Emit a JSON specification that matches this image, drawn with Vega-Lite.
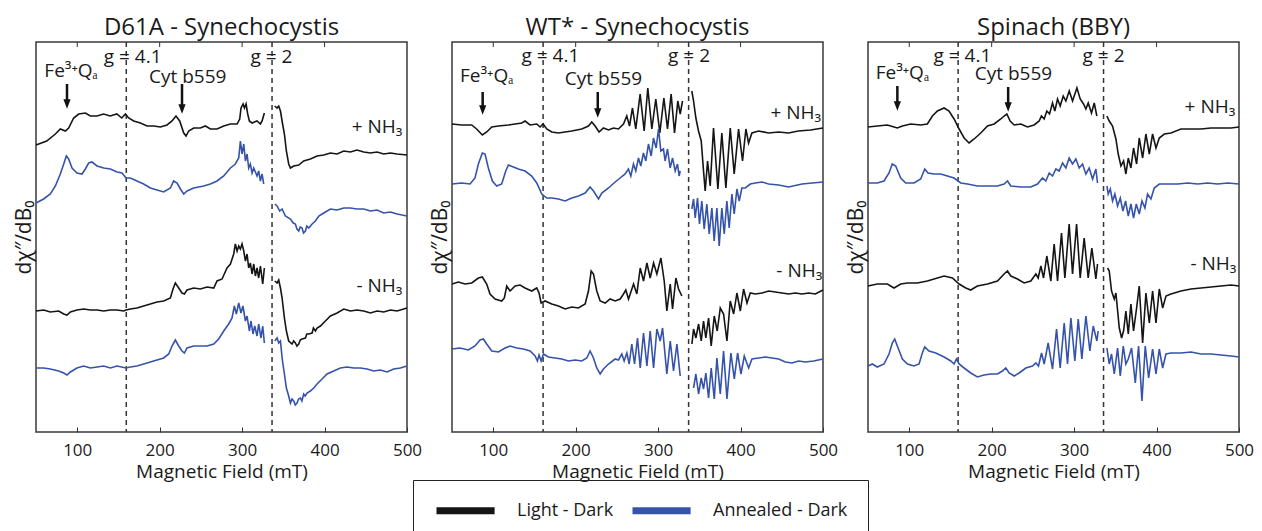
{
"$schema": "https://vega.github.io/schema/vega-lite/v6.json",
"padding": {"left": 12, "top": 16, "right": 0, "bottom": 0},
"background": "white",
"data": {"values": [
{"p":"A","k":"d","x":159.5},{"p":"A","k":"d","x":336.3},
{"p":"B","k":"d","x":160.5},{"p":"B","k":"d","x":337},
{"p":"C","k":"d","x":159.3},{"p":"C","k":"d","x":335.7},
{"p":"A","k":"tk","x":100},{"p":"A","k":"tk","x":200},{"p":"A","k":"tk","x":300},{"p":"A","k":"tk","x":400},
{"p":"B","k":"tk","x":100},{"p":"B","k":"tk","x":200},{"p":"B","k":"tk","x":300},{"p":"B","k":"tk","x":400},
{"p":"C","k":"tk","x":100},{"p":"C","k":"tk","x":200},{"p":"C","k":"tk","x":300},{"p":"C","k":"tk","x":400},
{"p":"A","k":"txt","x":167.3,"y":375,"label":"g = 4.1"},{"p":"A","k":"txt","x":335.5,"y":375,"label":"g = 2"},{"p":"A","k":"txt","x":92.5,"y":361,"label":"Fe³⁺Qₐ"},{"p":"A","k":"txt","x":234,"y":355,"label":"Cyt b559"},{"p":"A","k":"txt","x":463.7,"y":305,"label":"+ NH₃"},{"p":"A","k":"txt","x":466.5,"y":146,"label":"- NH₃"},
{"p":"B","k":"txt","x":169.4,"y":376,"label":"g = 4.1"},{"p":"B","k":"txt","x":337.5,"y":376,"label":"g = 2"},{"p":"B","k":"txt","x":92.1,"y":356,"label":"Fe³⁺Qₐ"},{"p":"B","k":"txt","x":233.7,"y":353,"label":"Cyt b559"},{"p":"B","k":"txt","x":467,"y":319,"label":"+ NH₃"},{"p":"B","k":"txt","x":471.3,"y":161,"label":"- NH₃"},
{"p":"C","k":"txt","x":164.5,"y":376,"label":"g = 4.1"},{"p":"C","k":"txt","x":335.7,"y":376,"label":"g = 2"},{"p":"C","k":"txt","x":91.7,"y":359,"label":"Fe³⁺Qₐ"},{"p":"C","k":"txt","x":226.4,"y":358,"label":"Cyt b559"},{"p":"C","k":"txt","x":464.8,"y":325,"label":"+ NH₃"},{"p":"C","k":"txt","x":468.9,"y":168,"label":"- NH₃"},
{"p":"A","k":"arr","x":87.6,"y":348,"yh":328},{"p":"A","k":"arr","x":227.1,"y":348,"yh":323},
{"p":"B","k":"arr","x":87.2,"y":340,"yh":322},{"p":"B","k":"arr","x":226.8,"y":340,"yh":319},
{"p":"C","k":"arr","x":85.6,"y":346,"yh":326},{"p":"C","k":"arr","x":220,"y":345,"yh":325},
{"p":"A","id":"A1","t":"L","x":50,"y":287},{"p":"A","id":"A1","t":"L","x":63,"y":291},{"p":"A","id":"A1","t":"L","x":73.5,"y":298},{"p":"A","id":"A1","t":"L","x":79.5,"y":303},{"p":"A","id":"A1","t":"L","x":85.6,"y":301},{"p":"A","id":"A1","t":"L","x":89.6,"y":304},{"p":"A","id":"A1","t":"L","x":95.7,"y":314},{"p":"A","id":"A1","t":"L","x":101.8,"y":318},{"p":"A","id":"A1","t":"L","x":109.9,"y":319},{"p":"A","id":"A1","t":"L","x":115.9,"y":316},{"p":"A","id":"A1","t":"L","x":124,"y":316},{"p":"A","id":"A1","t":"L","x":132,"y":318},{"p":"A","id":"A1","t":"L","x":140,"y":316},{"p":"A","id":"A1","t":"L","x":148,"y":318},{"p":"A","id":"A1","t":"L","x":154,"y":314},{"p":"A","id":"A1","t":"L","x":158.4,"y":318},{"p":"A","id":"A1","t":"L","x":162.4,"y":314},{"p":"A","id":"A1","t":"L","x":168.5,"y":311},{"p":"A","id":"A1","t":"L","x":176.6,"y":309},{"p":"A","id":"A1","t":"L","x":184.7,"y":306},{"p":"A","id":"A1","t":"L","x":192.8,"y":306},{"p":"A","id":"A1","t":"L","x":200.8,"y":305},{"p":"A","id":"A1","t":"L","x":208.9,"y":307},{"p":"A","id":"A1","t":"L","x":215,"y":311},{"p":"A","id":"A1","t":"L","x":219.8,"y":316},{"p":"A","id":"A1","t":"L","x":224.3,"y":311},{"p":"A","id":"A1","t":"L","x":229.2,"y":299},{"p":"A","id":"A1","t":"L","x":232,"y":296},{"p":"A","id":"A1","t":"L","x":235.2,"y":301},{"p":"A","id":"A1","t":"L","x":241.3,"y":304},{"p":"A","id":"A1","t":"L","x":249.4,"y":304},{"p":"A","id":"A1","t":"L","x":255.4,"y":306},{"p":"A","id":"A1","t":"L","x":261.5,"y":303},{"p":"A","id":"A1","t":"L","x":269.6,"y":303},{"p":"A","id":"A1","t":"L","x":277.7,"y":306},{"p":"A","id":"A1","t":"L","x":285.8,"y":308},{"p":"A","id":"A1","t":"L","x":293.9,"y":308},{"p":"A","id":"A1","t":"L","x":297.1,"y":313},{"p":"A","id":"A1","t":"L","x":298.7,"y":324},{"p":"A","id":"A1","t":"L","x":301.2,"y":328},{"p":"A","id":"A1","t":"L","x":302.8,"y":324},{"p":"A","id":"A1","t":"L","x":304.8,"y":328},{"p":"A","id":"A1","t":"L","x":306.8,"y":318},{"p":"A","id":"A1","t":"L","x":308.8,"y":311},{"p":"A","id":"A1","t":"L","x":312.1,"y":309},{"p":"A","id":"A1","t":"L","x":318.1,"y":311},{"p":"A","id":"A1","t":"L","x":322.2,"y":308},{"p":"A","id":"A1","t":"L","x":324.2,"y":311},{"p":"A","id":"A1","t":"L","x":327,"y":319},
{"p":"A","id":"A2","t":"L","x":339.6,"y":326},{"p":"A","id":"A2","t":"L","x":342.4,"y":324},{"p":"A","id":"A2","t":"L","x":344.4,"y":326},{"p":"A","id":"A2","t":"L","x":346.5,"y":321},{"p":"A","id":"A2","t":"L","x":348.9,"y":309},{"p":"A","id":"A2","t":"L","x":351.3,"y":298},{"p":"A","id":"A2","t":"L","x":353.7,"y":281},{"p":"A","id":"A2","t":"L","x":356.5,"y":268},{"p":"A","id":"A2","t":"L","x":358.6,"y":264},{"p":"A","id":"A2","t":"L","x":362.6,"y":266},{"p":"A","id":"A2","t":"L","x":368.7,"y":267},{"p":"A","id":"A2","t":"L","x":374.7,"y":271},{"p":"A","id":"A2","t":"L","x":382.8,"y":273},{"p":"A","id":"A2","t":"L","x":390.9,"y":276},{"p":"A","id":"A2","t":"L","x":399,"y":277},{"p":"A","id":"A2","t":"L","x":407.1,"y":279},{"p":"A","id":"A2","t":"L","x":415.2,"y":278},{"p":"A","id":"A2","t":"L","x":423.3,"y":281},{"p":"A","id":"A2","t":"L","x":431.3,"y":280},{"p":"A","id":"A2","t":"L","x":439.4,"y":282},{"p":"A","id":"A2","t":"L","x":447.5,"y":280},{"p":"A","id":"A2","t":"L","x":455.6,"y":279},{"p":"A","id":"A2","t":"L","x":463.7,"y":280},{"p":"A","id":"A2","t":"L","x":471.8,"y":278},{"p":"A","id":"A2","t":"L","x":479.9,"y":279},{"p":"A","id":"A2","t":"L","x":488,"y":278},{"p":"A","id":"A2","t":"L","x":500,"y":277},
{"p":"A","id":"A3","t":"A","x":50,"y":229},{"p":"A","id":"A3","t":"A","x":59.3,"y":233},{"p":"A","id":"A3","t":"A","x":67.4,"y":238},{"p":"A","id":"A3","t":"A","x":73.5,"y":246},{"p":"A","id":"A3","t":"A","x":79.5,"y":258},{"p":"A","id":"A3","t":"A","x":83.6,"y":268},{"p":"A","id":"A3","t":"A","x":86.8,"y":276},{"p":"A","id":"A3","t":"A","x":89.6,"y":273},{"p":"A","id":"A3","t":"A","x":93.7,"y":264},{"p":"A","id":"A3","t":"A","x":99.7,"y":259},{"p":"A","id":"A3","t":"A","x":105.8,"y":258},{"p":"A","id":"A3","t":"A","x":109.9,"y":263},{"p":"A","id":"A3","t":"A","x":113.9,"y":269},{"p":"A","id":"A3","t":"A","x":117.9,"y":270},{"p":"A","id":"A3","t":"A","x":124,"y":266},{"p":"A","id":"A3","t":"A","x":132.1,"y":264},{"p":"A","id":"A3","t":"A","x":140.2,"y":263},{"p":"A","id":"A3","t":"A","x":148.3,"y":260},{"p":"A","id":"A3","t":"A","x":154.3,"y":259},{"p":"A","id":"A3","t":"A","x":159.2,"y":254},{"p":"A","id":"A3","t":"A","x":164.4,"y":254},{"p":"A","id":"A3","t":"A","x":172.5,"y":251},{"p":"A","id":"A3","t":"A","x":180.6,"y":248},{"p":"A","id":"A3","t":"A","x":188.7,"y":244},{"p":"A","id":"A3","t":"A","x":196.8,"y":242},{"p":"A","id":"A3","t":"A","x":204.9,"y":240},{"p":"A","id":"A3","t":"A","x":213,"y":244},{"p":"A","id":"A3","t":"A","x":217,"y":251},{"p":"A","id":"A3","t":"A","x":221.1,"y":249},{"p":"A","id":"A3","t":"A","x":225.1,"y":243},{"p":"A","id":"A3","t":"A","x":229.2,"y":238},{"p":"A","id":"A3","t":"A","x":233.2,"y":241},{"p":"A","id":"A3","t":"A","x":241.3,"y":244},{"p":"A","id":"A3","t":"A","x":253.4,"y":246},{"p":"A","id":"A3","t":"A","x":261.5,"y":248},{"p":"A","id":"A3","t":"A","x":269.6,"y":251},{"p":"A","id":"A3","t":"A","x":277.7,"y":256},{"p":"A","id":"A3","t":"A","x":285.8,"y":264},{"p":"A","id":"A3","t":"A","x":291.8,"y":268},{"p":"A","id":"A3","t":"A","x":295.9,"y":274},{"p":"A","id":"A3","t":"A","x":297.9,"y":291},{"p":"A","id":"A3","t":"A","x":299.9,"y":278},{"p":"A","id":"A3","t":"A","x":302,"y":288},{"p":"A","id":"A3","t":"A","x":304,"y":271},{"p":"A","id":"A3","t":"A","x":306,"y":278},{"p":"A","id":"A3","t":"A","x":308,"y":264},{"p":"A","id":"A3","t":"A","x":310,"y":268},{"p":"A","id":"A3","t":"A","x":312.1,"y":259},{"p":"A","id":"A3","t":"A","x":314.1,"y":264},{"p":"A","id":"A3","t":"A","x":318.1,"y":256},{"p":"A","id":"A3","t":"A","x":320.1,"y":261},{"p":"A","id":"A3","t":"A","x":322.2,"y":251},{"p":"A","id":"A3","t":"A","x":324.2,"y":258},{"p":"A","id":"A3","t":"A","x":326.2,"y":248},
{"p":"A","id":"A4","t":"A","x":339.6,"y":228},{"p":"A","id":"A4","t":"A","x":342.4,"y":226},{"p":"A","id":"A4","t":"A","x":345.6,"y":221},{"p":"A","id":"A4","t":"A","x":348.5,"y":223},{"p":"A","id":"A4","t":"A","x":352.5,"y":216},{"p":"A","id":"A4","t":"A","x":358.6,"y":213},{"p":"A","id":"A4","t":"A","x":362,"y":209},{"p":"A","id":"A4","t":"A","x":364.6,"y":208},{"p":"A","id":"A4","t":"A","x":366.5,"y":203},{"p":"A","id":"A4","t":"A","x":368.7,"y":201},{"p":"A","id":"A4","t":"A","x":370.5,"y":205},{"p":"A","id":"A4","t":"A","x":372.7,"y":204},{"p":"A","id":"A4","t":"A","x":374.5,"y":199},{"p":"A","id":"A4","t":"A","x":376.8,"y":201},{"p":"A","id":"A4","t":"A","x":378.5,"y":206},{"p":"A","id":"A4","t":"A","x":380.8,"y":204},{"p":"A","id":"A4","t":"A","x":384.9,"y":208},{"p":"A","id":"A4","t":"A","x":388.9,"y":211},{"p":"A","id":"A4","t":"A","x":393,"y":216},{"p":"A","id":"A4","t":"A","x":399,"y":219},{"p":"A","id":"A4","t":"A","x":407.1,"y":223},{"p":"A","id":"A4","t":"A","x":415.2,"y":222},{"p":"A","id":"A4","t":"A","x":423.3,"y":224},{"p":"A","id":"A4","t":"A","x":431.3,"y":224},{"p":"A","id":"A4","t":"A","x":439.4,"y":223},{"p":"A","id":"A4","t":"A","x":447.5,"y":223},{"p":"A","id":"A4","t":"A","x":455.6,"y":221},{"p":"A","id":"A4","t":"A","x":463.7,"y":222},{"p":"A","id":"A4","t":"A","x":471.8,"y":219},{"p":"A","id":"A4","t":"A","x":479.9,"y":220},{"p":"A","id":"A4","t":"A","x":488,"y":218},{"p":"A","id":"A4","t":"A","x":500,"y":216},
{"p":"A","id":"A5","t":"L","x":50,"y":121},{"p":"A","id":"A5","t":"L","x":59.3,"y":122},{"p":"A","id":"A5","t":"L","x":67.4,"y":120},{"p":"A","id":"A5","t":"L","x":77.5,"y":121},{"p":"A","id":"A5","t":"L","x":83.6,"y":118},{"p":"A","id":"A5","t":"L","x":87.6,"y":117},{"p":"A","id":"A5","t":"L","x":91.7,"y":120},{"p":"A","id":"A5","t":"L","x":99.7,"y":122},{"p":"A","id":"A5","t":"L","x":107.8,"y":123},{"p":"A","id":"A5","t":"L","x":115.9,"y":122},{"p":"A","id":"A5","t":"L","x":124,"y":122},{"p":"A","id":"A5","t":"L","x":132.1,"y":121},{"p":"A","id":"A5","t":"L","x":140.2,"y":122},{"p":"A","id":"A5","t":"L","x":148.3,"y":122},{"p":"A","id":"A5","t":"L","x":156.4,"y":121},{"p":"A","id":"A5","t":"L","x":159.2,"y":122},{"p":"A","id":"A5","t":"L","x":164.4,"y":123},{"p":"A","id":"A5","t":"L","x":172.5,"y":124},{"p":"A","id":"A5","t":"L","x":180.6,"y":126},{"p":"A","id":"A5","t":"L","x":188.7,"y":128},{"p":"A","id":"A5","t":"L","x":196.8,"y":130},{"p":"A","id":"A5","t":"L","x":204.9,"y":131},{"p":"A","id":"A5","t":"L","x":213,"y":134},{"p":"A","id":"A5","t":"L","x":216.2,"y":143},{"p":"A","id":"A5","t":"L","x":219,"y":149},{"p":"A","id":"A5","t":"L","x":223.1,"y":144},{"p":"A","id":"A5","t":"L","x":227.1,"y":139},{"p":"A","id":"A5","t":"L","x":230,"y":138},{"p":"A","id":"A5","t":"L","x":233.2,"y":142},{"p":"A","id":"A5","t":"L","x":241.3,"y":144},{"p":"A","id":"A5","t":"L","x":249.4,"y":143},{"p":"A","id":"A5","t":"L","x":257.5,"y":145},{"p":"A","id":"A5","t":"L","x":265.6,"y":144},{"p":"A","id":"A5","t":"L","x":269.6,"y":151},{"p":"A","id":"A5","t":"L","x":275.7,"y":153},{"p":"A","id":"A5","t":"L","x":281.7,"y":164},{"p":"A","id":"A5","t":"L","x":285.8,"y":168},{"p":"A","id":"A5","t":"L","x":289.8,"y":178},{"p":"A","id":"A5","t":"L","x":291.8,"y":188},{"p":"A","id":"A5","t":"L","x":293.9,"y":181},{"p":"A","id":"A5","t":"L","x":295.9,"y":186},{"p":"A","id":"A5","t":"L","x":297.9,"y":183},{"p":"A","id":"A5","t":"L","x":299.9,"y":188},{"p":"A","id":"A5","t":"L","x":302,"y":181},{"p":"A","id":"A5","t":"L","x":304,"y":171},{"p":"A","id":"A5","t":"L","x":306,"y":178},{"p":"A","id":"A5","t":"L","x":308,"y":164},{"p":"A","id":"A5","t":"L","x":310,"y":169},{"p":"A","id":"A5","t":"L","x":312.1,"y":158},{"p":"A","id":"A5","t":"L","x":314.1,"y":168},{"p":"A","id":"A5","t":"L","x":316.1,"y":156},{"p":"A","id":"A5","t":"L","x":318.1,"y":164},{"p":"A","id":"A5","t":"L","x":320.1,"y":154},{"p":"A","id":"A5","t":"L","x":322.2,"y":166},{"p":"A","id":"A5","t":"L","x":325,"y":148},{"p":"A","id":"A5","t":"L","x":327,"y":164},
{"p":"A","id":"A6","t":"L","x":339.6,"y":151},{"p":"A","id":"A6","t":"L","x":342.4,"y":149},{"p":"A","id":"A6","t":"L","x":344.4,"y":152},{"p":"A","id":"A6","t":"L","x":346.5,"y":144},{"p":"A","id":"A6","t":"L","x":348.5,"y":134},{"p":"A","id":"A6","t":"L","x":351.3,"y":114},{"p":"A","id":"A6","t":"L","x":353.7,"y":101},{"p":"A","id":"A6","t":"L","x":356.5,"y":91},{"p":"A","id":"A6","t":"L","x":360.6,"y":88},{"p":"A","id":"A6","t":"L","x":362.5,"y":91},{"p":"A","id":"A6","t":"L","x":364.6,"y":89},{"p":"A","id":"A6","t":"L","x":366.5,"y":86},{"p":"A","id":"A6","t":"L","x":368.7,"y":88},{"p":"A","id":"A6","t":"L","x":370.5,"y":92},{"p":"A","id":"A6","t":"L","x":372.7,"y":93},{"p":"A","id":"A6","t":"L","x":376.8,"y":94},{"p":"A","id":"A6","t":"L","x":378.5,"y":98},{"p":"A","id":"A6","t":"L","x":380.8,"y":98},{"p":"A","id":"A6","t":"L","x":384.9,"y":99},{"p":"A","id":"A6","t":"L","x":386.5,"y":104},{"p":"A","id":"A6","t":"L","x":388.9,"y":101},{"p":"A","id":"A6","t":"L","x":390.9,"y":104},{"p":"A","id":"A6","t":"L","x":395,"y":106},{"p":"A","id":"A6","t":"L","x":401,"y":111},{"p":"A","id":"A6","t":"L","x":407.1,"y":116},{"p":"A","id":"A6","t":"L","x":415.2,"y":119},{"p":"A","id":"A6","t":"L","x":423.3,"y":123},{"p":"A","id":"A6","t":"L","x":431.3,"y":121},{"p":"A","id":"A6","t":"L","x":439.4,"y":122},{"p":"A","id":"A6","t":"L","x":447.5,"y":121},{"p":"A","id":"A6","t":"L","x":455.6,"y":119},{"p":"A","id":"A6","t":"L","x":463.7,"y":121},{"p":"A","id":"A6","t":"L","x":471.8,"y":120},{"p":"A","id":"A6","t":"L","x":479.9,"y":122},{"p":"A","id":"A6","t":"L","x":488,"y":121},{"p":"A","id":"A6","t":"L","x":500,"y":124},
{"p":"A","id":"A7","t":"A","x":50,"y":64},{"p":"A","id":"A7","t":"A","x":59.3,"y":64},{"p":"A","id":"A7","t":"A","x":67.4,"y":63},{"p":"A","id":"A7","t":"A","x":77.5,"y":61},{"p":"A","id":"A7","t":"A","x":83.6,"y":59},{"p":"A","id":"A7","t":"A","x":87.6,"y":57},{"p":"A","id":"A7","t":"A","x":91.7,"y":60},{"p":"A","id":"A7","t":"A","x":99.7,"y":64},{"p":"A","id":"A7","t":"A","x":107.8,"y":66},{"p":"A","id":"A7","t":"A","x":115.9,"y":64},{"p":"A","id":"A7","t":"A","x":124,"y":65},{"p":"A","id":"A7","t":"A","x":132.1,"y":66},{"p":"A","id":"A7","t":"A","x":140.2,"y":64},{"p":"A","id":"A7","t":"A","x":148.3,"y":66},{"p":"A","id":"A7","t":"A","x":159.2,"y":64},{"p":"A","id":"A7","t":"A","x":164.4,"y":65},{"p":"A","id":"A7","t":"A","x":172.5,"y":66},{"p":"A","id":"A7","t":"A","x":180.6,"y":68},{"p":"A","id":"A7","t":"A","x":188.7,"y":70},{"p":"A","id":"A7","t":"A","x":196.8,"y":72},{"p":"A","id":"A7","t":"A","x":204.9,"y":74},{"p":"A","id":"A7","t":"A","x":211,"y":78},{"p":"A","id":"A7","t":"A","x":215,"y":86},{"p":"A","id":"A7","t":"A","x":219,"y":92},{"p":"A","id":"A7","t":"A","x":223.1,"y":86},{"p":"A","id":"A7","t":"A","x":227.1,"y":81},{"p":"A","id":"A7","t":"A","x":230,"y":79},{"p":"A","id":"A7","t":"A","x":233.2,"y":84},{"p":"A","id":"A7","t":"A","x":241.3,"y":86},{"p":"A","id":"A7","t":"A","x":249.4,"y":86},{"p":"A","id":"A7","t":"A","x":257.5,"y":86},{"p":"A","id":"A7","t":"A","x":265.6,"y":88},{"p":"A","id":"A7","t":"A","x":271.6,"y":93},{"p":"A","id":"A7","t":"A","x":277.7,"y":101},{"p":"A","id":"A7","t":"A","x":283.7,"y":108},{"p":"A","id":"A7","t":"A","x":287.8,"y":114},{"p":"A","id":"A7","t":"A","x":290.6,"y":126},{"p":"A","id":"A7","t":"A","x":293,"y":118},{"p":"A","id":"A7","t":"A","x":295.9,"y":129},{"p":"A","id":"A7","t":"A","x":298.6,"y":119},{"p":"A","id":"A7","t":"A","x":301,"y":126},{"p":"A","id":"A7","t":"A","x":304,"y":111},{"p":"A","id":"A7","t":"A","x":306,"y":116},{"p":"A","id":"A7","t":"A","x":308.8,"y":101},{"p":"A","id":"A7","t":"A","x":310.8,"y":111},{"p":"A","id":"A7","t":"A","x":313.2,"y":98},{"p":"A","id":"A7","t":"A","x":315.3,"y":106},{"p":"A","id":"A7","t":"A","x":318.1,"y":96},{"p":"A","id":"A7","t":"A","x":320.1,"y":108},{"p":"A","id":"A7","t":"A","x":322.9,"y":94},{"p":"A","id":"A7","t":"A","x":325,"y":106},{"p":"A","id":"A7","t":"A","x":327,"y":89},
{"p":"A","id":"A8","t":"A","x":339.6,"y":91},{"p":"A","id":"A8","t":"A","x":342.4,"y":94},{"p":"A","id":"A8","t":"A","x":344.4,"y":89},{"p":"A","id":"A8","t":"A","x":346.5,"y":91},{"p":"A","id":"A8","t":"A","x":348.5,"y":74},{"p":"A","id":"A8","t":"A","x":351.3,"y":58},{"p":"A","id":"A8","t":"A","x":353.7,"y":44},{"p":"A","id":"A8","t":"A","x":356.5,"y":36},{"p":"A","id":"A8","t":"A","x":358.6,"y":29},{"p":"A","id":"A8","t":"A","x":360.5,"y":33},{"p":"A","id":"A8","t":"A","x":362.6,"y":31},{"p":"A","id":"A8","t":"A","x":364.5,"y":27},{"p":"A","id":"A8","t":"A","x":366.6,"y":29},{"p":"A","id":"A8","t":"A","x":368.5,"y":33},{"p":"A","id":"A8","t":"A","x":370.7,"y":34},{"p":"A","id":"A8","t":"A","x":372.5,"y":31},{"p":"A","id":"A8","t":"A","x":374.7,"y":38},{"p":"A","id":"A8","t":"A","x":376.5,"y":36},{"p":"A","id":"A8","t":"A","x":378.8,"y":39},{"p":"A","id":"A8","t":"A","x":382.8,"y":41},{"p":"A","id":"A8","t":"A","x":386.9,"y":44},{"p":"A","id":"A8","t":"A","x":390.9,"y":48},{"p":"A","id":"A8","t":"A","x":397,"y":53},{"p":"A","id":"A8","t":"A","x":403,"y":58},{"p":"A","id":"A8","t":"A","x":411.1,"y":61},{"p":"A","id":"A8","t":"A","x":419.2,"y":64},{"p":"A","id":"A8","t":"A","x":427.3,"y":65},{"p":"A","id":"A8","t":"A","x":435.4,"y":64},{"p":"A","id":"A8","t":"A","x":443.5,"y":64},{"p":"A","id":"A8","t":"A","x":451.6,"y":63},{"p":"A","id":"A8","t":"A","x":459.7,"y":61},{"p":"A","id":"A8","t":"A","x":467.7,"y":62},{"p":"A","id":"A8","t":"A","x":475.8,"y":60},{"p":"A","id":"A8","t":"A","x":483.9,"y":63},{"p":"A","id":"A8","t":"A","x":492,"y":64},{"p":"A","id":"A8","t":"A","x":500,"y":66},
{"p":"B","id":"B1","t":"L","x":50,"y":308},{"p":"B","id":"B1","t":"L","x":61.7,"y":307},{"p":"B","id":"B1","t":"L","x":73.9,"y":307},{"p":"B","id":"B1","t":"L","x":79.9,"y":303},{"p":"B","id":"B1","t":"L","x":86.8,"y":297},{"p":"B","id":"B1","t":"L","x":92.1,"y":300},{"p":"B","id":"B1","t":"L","x":98.2,"y":305},{"p":"B","id":"B1","t":"L","x":106.3,"y":306},{"p":"B","id":"B1","t":"L","x":118.4,"y":307},{"p":"B","id":"B1","t":"L","x":126.5,"y":308},{"p":"B","id":"B1","t":"L","x":134.6,"y":309},{"p":"B","id":"B1","t":"L","x":138.6,"y":311},{"p":"B","id":"B1","t":"L","x":144.7,"y":307},{"p":"B","id":"B1","t":"L","x":152.8,"y":308},{"p":"B","id":"B1","t":"L","x":156.8,"y":305},{"p":"B","id":"B1","t":"L","x":160.5,"y":308},{"p":"B","id":"B1","t":"L","x":164.9,"y":303},{"p":"B","id":"B1","t":"L","x":171,"y":300},{"p":"B","id":"B1","t":"L","x":179,"y":299},{"p":"B","id":"B1","t":"L","x":195.2,"y":301},{"p":"B","id":"B1","t":"L","x":207.4,"y":303},{"p":"B","id":"B1","t":"L","x":215.5,"y":306},{"p":"B","id":"B1","t":"L","x":219.5,"y":310},{"p":"B","id":"B1","t":"L","x":223.6,"y":306},{"p":"B","id":"B1","t":"L","x":228.4,"y":300},{"p":"B","id":"B1","t":"L","x":233.7,"y":304},{"p":"B","id":"B1","t":"L","x":239.8,"y":302},{"p":"B","id":"B1","t":"L","x":245.8,"y":304},{"p":"B","id":"B1","t":"L","x":251.9,"y":303},{"p":"B","id":"B1","t":"L","x":258,"y":308},{"p":"B","id":"B1","t":"L","x":262,"y":316},{"p":"B","id":"B1","t":"L","x":265.3,"y":306},{"p":"B","id":"B1","t":"L","x":268.9,"y":324},{"p":"B","id":"B1","t":"L","x":272.9,"y":303},{"p":"B","id":"B1","t":"L","x":278.2,"y":338},{"p":"B","id":"B1","t":"L","x":283.1,"y":301},{"p":"B","id":"B1","t":"L","x":287.5,"y":344},{"p":"B","id":"B1","t":"L","x":292.4,"y":303},{"p":"B","id":"B1","t":"L","x":297.2,"y":333},{"p":"B","id":"B1","t":"L","x":302.1,"y":299},{"p":"B","id":"B1","t":"L","x":307,"y":334},{"p":"B","id":"B1","t":"L","x":311.4,"y":303},{"p":"B","id":"B1","t":"L","x":315.8,"y":338},{"p":"B","id":"B1","t":"L","x":319.9,"y":299},{"p":"B","id":"B1","t":"L","x":323.9,"y":331},{"p":"B","id":"B1","t":"L","x":326.8,"y":318},{"p":"B","id":"B1","t":"L","x":329.6,"y":331},
{"p":"B","id":"B2","t":"L","x":340.9,"y":341},{"p":"B","id":"B2","t":"L","x":343,"y":331},{"p":"B","id":"B2","t":"L","x":345.8,"y":314},{"p":"B","id":"B2","t":"L","x":349,"y":301},{"p":"B","id":"B2","t":"L","x":352.3,"y":291},{"p":"B","id":"B2","t":"L","x":355.1,"y":261},{"p":"B","id":"B2","t":"L","x":357.1,"y":241},{"p":"B","id":"B2","t":"L","x":360,"y":271},{"p":"B","id":"B2","t":"L","x":363.2,"y":246},{"p":"B","id":"B2","t":"L","x":367.2,"y":304},{"p":"B","id":"B2","t":"L","x":372.5,"y":243},{"p":"B","id":"B2","t":"L","x":377.3,"y":299},{"p":"B","id":"B2","t":"L","x":382.2,"y":244},{"p":"B","id":"B2","t":"L","x":387.5,"y":304},{"p":"B","id":"B2","t":"L","x":392.3,"y":258},{"p":"B","id":"B2","t":"L","x":397.6,"y":303},{"p":"B","id":"B2","t":"L","x":402.4,"y":271},{"p":"B","id":"B2","t":"L","x":406.5,"y":303},{"p":"B","id":"B2","t":"L","x":409.7,"y":289},{"p":"B","id":"B2","t":"L","x":413.8,"y":299},{"p":"B","id":"B2","t":"L","x":421.9,"y":301},{"p":"B","id":"B2","t":"L","x":434,"y":299},{"p":"B","id":"B2","t":"L","x":446.1,"y":300},{"p":"B","id":"B2","t":"L","x":458.3,"y":299},{"p":"B","id":"B2","t":"L","x":470,"y":301},{"p":"B","id":"B2","t":"L","x":485,"y":302},{"p":"B","id":"B2","t":"L","x":500,"y":304},
{"p":"B","id":"B3","t":"A","x":50,"y":248},{"p":"B","id":"B3","t":"A","x":61.7,"y":249},{"p":"B","id":"B3","t":"A","x":71.9,"y":248},{"p":"B","id":"B3","t":"A","x":77.9,"y":254},{"p":"B","id":"B3","t":"A","x":82,"y":268},{"p":"B","id":"B3","t":"A","x":86.8,"y":279},{"p":"B","id":"B3","t":"A","x":90.1,"y":278},{"p":"B","id":"B3","t":"A","x":94.1,"y":264},{"p":"B","id":"B3","t":"A","x":99,"y":251},{"p":"B","id":"B3","t":"A","x":104.2,"y":246},{"p":"B","id":"B3","t":"A","x":110.3,"y":248},{"p":"B","id":"B3","t":"A","x":115.2,"y":261},{"p":"B","id":"B3","t":"A","x":118.4,"y":267},{"p":"B","id":"B3","t":"A","x":124.5,"y":265},{"p":"B","id":"B3","t":"A","x":130.5,"y":263},{"p":"B","id":"B3","t":"A","x":138.6,"y":261},{"p":"B","id":"B3","t":"A","x":146.7,"y":256},{"p":"B","id":"B3","t":"A","x":152.8,"y":249},{"p":"B","id":"B3","t":"A","x":158.9,"y":238},{"p":"B","id":"B3","t":"A","x":164.9,"y":234},{"p":"B","id":"B3","t":"A","x":171,"y":234},{"p":"B","id":"B3","t":"A","x":179.1,"y":233},{"p":"B","id":"B3","t":"A","x":187.2,"y":231},{"p":"B","id":"B3","t":"A","x":195.3,"y":234},{"p":"B","id":"B3","t":"A","x":203.4,"y":236},{"p":"B","id":"B3","t":"A","x":211.5,"y":239},{"p":"B","id":"B3","t":"A","x":217.5,"y":245},{"p":"B","id":"B3","t":"A","x":221.6,"y":241},{"p":"B","id":"B3","t":"A","x":227.7,"y":233},{"p":"B","id":"B3","t":"A","x":231.7,"y":239},{"p":"B","id":"B3","t":"A","x":239.8,"y":244},{"p":"B","id":"B3","t":"A","x":247.9,"y":250},{"p":"B","id":"B3","t":"A","x":253.9,"y":254},{"p":"B","id":"B3","t":"A","x":260,"y":258},{"p":"B","id":"B3","t":"A","x":264,"y":263},{"p":"B","id":"B3","t":"A","x":266.9,"y":256},{"p":"B","id":"B3","t":"A","x":270.1,"y":268},{"p":"B","id":"B3","t":"A","x":272.9,"y":261},{"p":"B","id":"B3","t":"A","x":276.2,"y":274},{"p":"B","id":"B3","t":"A","x":279,"y":266},{"p":"B","id":"B3","t":"A","x":282.2,"y":279},{"p":"B","id":"B3","t":"A","x":285.1,"y":271},{"p":"B","id":"B3","t":"A","x":288.3,"y":288},{"p":"B","id":"B3","t":"A","x":291.6,"y":276},{"p":"B","id":"B3","t":"A","x":294.4,"y":294},{"p":"B","id":"B3","t":"A","x":297.6,"y":284},{"p":"B","id":"B3","t":"A","x":300.5,"y":303},{"p":"B","id":"B3","t":"A","x":303.3,"y":281},{"p":"B","id":"B3","t":"A","x":306.5,"y":283},{"p":"B","id":"B3","t":"A","x":308.5,"y":271},{"p":"B","id":"B3","t":"A","x":311.4,"y":283},{"p":"B","id":"B3","t":"A","x":314.6,"y":264},{"p":"B","id":"B3","t":"A","x":317.5,"y":274},{"p":"B","id":"B3","t":"A","x":320.7,"y":261},{"p":"B","id":"B3","t":"A","x":323.5,"y":268},{"p":"B","id":"B3","t":"A","x":325.5,"y":256},{"p":"B","id":"B3","t":"A","x":326.8,"y":261},
{"p":"B","id":"B4","t":"A","x":340.9,"y":223},{"p":"B","id":"B4","t":"A","x":343,"y":233},{"p":"B","id":"B4","t":"A","x":345,"y":214},{"p":"B","id":"B4","t":"A","x":347.8,"y":234},{"p":"B","id":"B4","t":"A","x":350.2,"y":208},{"p":"B","id":"B4","t":"A","x":353,"y":231},{"p":"B","id":"B4","t":"A","x":355.9,"y":203},{"p":"B","id":"B4","t":"A","x":359.1,"y":228},{"p":"B","id":"B4","t":"A","x":362,"y":198},{"p":"B","id":"B4","t":"A","x":365.2,"y":224},{"p":"B","id":"B4","t":"A","x":368,"y":191},{"p":"B","id":"B4","t":"A","x":371.3,"y":224},{"p":"B","id":"B4","t":"A","x":374.1,"y":186},{"p":"B","id":"B4","t":"A","x":377.3,"y":224},{"p":"B","id":"B4","t":"A","x":380.2,"y":198},{"p":"B","id":"B4","t":"A","x":383.4,"y":231},{"p":"B","id":"B4","t":"A","x":386.2,"y":204},{"p":"B","id":"B4","t":"A","x":389.5,"y":238},{"p":"B","id":"B4","t":"A","x":392.3,"y":218},{"p":"B","id":"B4","t":"A","x":395.6,"y":243},{"p":"B","id":"B4","t":"A","x":398.4,"y":231},{"p":"B","id":"B4","t":"A","x":401.6,"y":244},{"p":"B","id":"B4","t":"A","x":405.7,"y":244},{"p":"B","id":"B4","t":"A","x":411.8,"y":248},{"p":"B","id":"B4","t":"A","x":417.8,"y":249},{"p":"B","id":"B4","t":"A","x":426,"y":250},{"p":"B","id":"B4","t":"A","x":434,"y":248},{"p":"B","id":"B4","t":"A","x":446.1,"y":247},{"p":"B","id":"B4","t":"A","x":458.3,"y":245},{"p":"B","id":"B4","t":"A","x":474.5,"y":248},{"p":"B","id":"B4","t":"A","x":487,"y":249},{"p":"B","id":"B4","t":"A","x":500,"y":250},
{"p":"B","id":"B5","t":"L","x":50,"y":148},{"p":"B","id":"B5","t":"L","x":57.7,"y":150},{"p":"B","id":"B5","t":"L","x":65.8,"y":148},{"p":"B","id":"B5","t":"L","x":73.9,"y":149},{"p":"B","id":"B5","t":"L","x":82,"y":154},{"p":"B","id":"B5","t":"L","x":86.8,"y":155},{"p":"B","id":"B5","t":"L","x":92.1,"y":148},{"p":"B","id":"B5","t":"L","x":96.1,"y":138},{"p":"B","id":"B5","t":"L","x":102.2,"y":133},{"p":"B","id":"B5","t":"L","x":110.3,"y":131},{"p":"B","id":"B5","t":"L","x":113.5,"y":134},{"p":"B","id":"B5","t":"L","x":116.4,"y":146},{"p":"B","id":"B5","t":"L","x":120.4,"y":141},{"p":"B","id":"B5","t":"L","x":126.5,"y":146},{"p":"B","id":"B5","t":"L","x":132.6,"y":147},{"p":"B","id":"B5","t":"L","x":138.6,"y":144},{"p":"B","id":"B5","t":"L","x":146.7,"y":141},{"p":"B","id":"B5","t":"L","x":152.8,"y":144},{"p":"B","id":"B5","t":"L","x":155.6,"y":139},{"p":"B","id":"B5","t":"L","x":158.1,"y":129},{"p":"B","id":"B5","t":"L","x":162.9,"y":131},{"p":"B","id":"B5","t":"L","x":171,"y":128},{"p":"B","id":"B5","t":"L","x":179.1,"y":126},{"p":"B","id":"B5","t":"L","x":187.2,"y":123},{"p":"B","id":"B5","t":"L","x":195.3,"y":125},{"p":"B","id":"B5","t":"L","x":203.4,"y":124},{"p":"B","id":"B5","t":"L","x":211.5,"y":128},{"p":"B","id":"B5","t":"L","x":215.5,"y":141},{"p":"B","id":"B5","t":"L","x":218.8,"y":161},{"p":"B","id":"B5","t":"L","x":221.6,"y":158},{"p":"B","id":"B5","t":"L","x":225.6,"y":141},{"p":"B","id":"B5","t":"L","x":229.7,"y":131},{"p":"B","id":"B5","t":"L","x":235.8,"y":129},{"p":"B","id":"B5","t":"L","x":241.8,"y":133},{"p":"B","id":"B5","t":"L","x":247.9,"y":131},{"p":"B","id":"B5","t":"L","x":254,"y":133},{"p":"B","id":"B5","t":"L","x":258,"y":138},{"p":"B","id":"B5","t":"L","x":260.8,"y":142},{"p":"B","id":"B5","t":"L","x":264.1,"y":133},{"p":"B","id":"B5","t":"L","x":270.2,"y":148},{"p":"B","id":"B5","t":"L","x":274.2,"y":138},{"p":"B","id":"B5","t":"L","x":278.3,"y":164},{"p":"B","id":"B5","t":"L","x":282.3,"y":151},{"p":"B","id":"B5","t":"L","x":286.4,"y":169},{"p":"B","id":"B5","t":"L","x":290.4,"y":154},{"p":"B","id":"B5","t":"L","x":294.5,"y":169},{"p":"B","id":"B5","t":"L","x":298.5,"y":158},{"p":"B","id":"B5","t":"L","x":303.4,"y":174},{"p":"B","id":"B5","t":"L","x":307.4,"y":151},{"p":"B","id":"B5","t":"L","x":310.6,"y":121},{"p":"B","id":"B5","t":"L","x":314.7,"y":148},{"p":"B","id":"B5","t":"L","x":317.5,"y":123},{"p":"B","id":"B5","t":"L","x":321.6,"y":154},{"p":"B","id":"B5","t":"L","x":324.8,"y":143},{"p":"B","id":"B5","t":"L","x":328.8,"y":136},
{"p":"B","id":"B6","t":"L","x":341,"y":88},{"p":"B","id":"B6","t":"L","x":343,"y":103},{"p":"B","id":"B6","t":"L","x":345.8,"y":94},{"p":"B","id":"B6","t":"L","x":349.1,"y":108},{"p":"B","id":"B6","t":"L","x":352.3,"y":91},{"p":"B","id":"B6","t":"L","x":355.1,"y":111},{"p":"B","id":"B6","t":"L","x":357.9,"y":94},{"p":"B","id":"B6","t":"L","x":361.2,"y":114},{"p":"B","id":"B6","t":"L","x":364.4,"y":86},{"p":"B","id":"B6","t":"L","x":368.1,"y":116},{"p":"B","id":"B6","t":"L","x":371.7,"y":101},{"p":"B","id":"B6","t":"L","x":375.4,"y":124},{"p":"B","id":"B6","t":"L","x":379.4,"y":118},{"p":"B","id":"B6","t":"L","x":383.5,"y":91},{"p":"B","id":"B6","t":"L","x":387.5,"y":131},{"p":"B","id":"B6","t":"L","x":391.6,"y":118},{"p":"B","id":"B6","t":"L","x":395.6,"y":139},{"p":"B","id":"B6","t":"L","x":399.7,"y":121},{"p":"B","id":"B6","t":"L","x":403.7,"y":143},{"p":"B","id":"B6","t":"L","x":407.8,"y":129},{"p":"B","id":"B6","t":"L","x":411.8,"y":139},{"p":"B","id":"B6","t":"L","x":417.9,"y":138},{"p":"B","id":"B6","t":"L","x":426,"y":139},{"p":"B","id":"B6","t":"L","x":434.1,"y":141},{"p":"B","id":"B6","t":"L","x":442.2,"y":140},{"p":"B","id":"B6","t":"L","x":450.3,"y":139},{"p":"B","id":"B6","t":"L","x":458.3,"y":138},{"p":"B","id":"B6","t":"L","x":466.4,"y":139},{"p":"B","id":"B6","t":"L","x":474.5,"y":138},{"p":"B","id":"B6","t":"L","x":482.6,"y":139},{"p":"B","id":"B6","t":"L","x":490.7,"y":138},{"p":"B","id":"B6","t":"L","x":500,"y":142},
{"p":"B","id":"B7","t":"A","x":50,"y":83},{"p":"B","id":"B7","t":"A","x":59.7,"y":84},{"p":"B","id":"B7","t":"A","x":69.8,"y":82},{"p":"B","id":"B7","t":"A","x":77.9,"y":86},{"p":"B","id":"B7","t":"A","x":84,"y":92},{"p":"B","id":"B7","t":"A","x":88,"y":93},{"p":"B","id":"B7","t":"A","x":92.1,"y":88},{"p":"B","id":"B7","t":"A","x":98.2,"y":81},{"p":"B","id":"B7","t":"A","x":106.3,"y":80},{"p":"B","id":"B7","t":"A","x":114.3,"y":84},{"p":"B","id":"B7","t":"A","x":120.4,"y":86},{"p":"B","id":"B7","t":"A","x":128.5,"y":84},{"p":"B","id":"B7","t":"A","x":136.6,"y":83},{"p":"B","id":"B7","t":"A","x":144.7,"y":81},{"p":"B","id":"B7","t":"A","x":150.8,"y":76},{"p":"B","id":"B7","t":"A","x":153.6,"y":71},{"p":"B","id":"B7","t":"A","x":155.6,"y":77},{"p":"B","id":"B7","t":"A","x":158.1,"y":71},{"p":"B","id":"B7","t":"A","x":160.9,"y":78},{"p":"B","id":"B7","t":"A","x":167,"y":75},{"p":"B","id":"B7","t":"A","x":175,"y":74},{"p":"B","id":"B7","t":"A","x":183.1,"y":73},{"p":"B","id":"B7","t":"A","x":191.2,"y":71},{"p":"B","id":"B7","t":"A","x":199.3,"y":72},{"p":"B","id":"B7","t":"A","x":207.4,"y":71},{"p":"B","id":"B7","t":"A","x":213.5,"y":74},{"p":"B","id":"B7","t":"A","x":217.5,"y":81},{"p":"B","id":"B7","t":"A","x":221.6,"y":74},{"p":"B","id":"B7","t":"A","x":225.6,"y":64},{"p":"B","id":"B7","t":"A","x":229.7,"y":58},{"p":"B","id":"B7","t":"A","x":233.7,"y":63},{"p":"B","id":"B7","t":"A","x":239.8,"y":68},{"p":"B","id":"B7","t":"A","x":247.9,"y":73},{"p":"B","id":"B7","t":"A","x":251.9,"y":72},{"p":"B","id":"B7","t":"A","x":256,"y":78},{"p":"B","id":"B7","t":"A","x":258.8,"y":71},{"p":"B","id":"B7","t":"A","x":262.1,"y":79},{"p":"B","id":"B7","t":"A","x":264.9,"y":68},{"p":"B","id":"B7","t":"A","x":268.1,"y":88},{"p":"B","id":"B7","t":"A","x":271.4,"y":68},{"p":"B","id":"B7","t":"A","x":275,"y":94},{"p":"B","id":"B7","t":"A","x":278.3,"y":64},{"p":"B","id":"B7","t":"A","x":282.3,"y":99},{"p":"B","id":"B7","t":"A","x":286.4,"y":66},{"p":"B","id":"B7","t":"A","x":290.4,"y":101},{"p":"B","id":"B7","t":"A","x":294.5,"y":64},{"p":"B","id":"B7","t":"A","x":298.5,"y":103},{"p":"B","id":"B7","t":"A","x":302.5,"y":91},{"p":"B","id":"B7","t":"A","x":305.4,"y":104},{"p":"B","id":"B7","t":"A","x":310.6,"y":58},{"p":"B","id":"B7","t":"A","x":314.7,"y":91},{"p":"B","id":"B7","t":"A","x":318.7,"y":61},{"p":"B","id":"B7","t":"A","x":322.8,"y":88},{"p":"B","id":"B7","t":"A","x":326.8,"y":56},
{"p":"B","id":"B8","t":"A","x":343,"y":44},{"p":"B","id":"B8","t":"A","x":345.8,"y":58},{"p":"B","id":"B8","t":"A","x":349.1,"y":38},{"p":"B","id":"B8","t":"A","x":352.3,"y":54},{"p":"B","id":"B8","t":"A","x":355.1,"y":43},{"p":"B","id":"B8","t":"A","x":357.9,"y":59},{"p":"B","id":"B8","t":"A","x":361.2,"y":34},{"p":"B","id":"B8","t":"A","x":364.4,"y":64},{"p":"B","id":"B8","t":"A","x":368.1,"y":33},{"p":"B","id":"B8","t":"A","x":371.3,"y":74},{"p":"B","id":"B8","t":"A","x":375.4,"y":38},{"p":"B","id":"B8","t":"A","x":379.4,"y":81},{"p":"B","id":"B8","t":"A","x":383.5,"y":33},{"p":"B","id":"B8","t":"A","x":388.3,"y":79},{"p":"B","id":"B8","t":"A","x":392.4,"y":53},{"p":"B","id":"B8","t":"A","x":396.4,"y":79},{"p":"B","id":"B8","t":"A","x":400.5,"y":58},{"p":"B","id":"B8","t":"A","x":404.5,"y":76},{"p":"B","id":"B8","t":"A","x":409.8,"y":64},{"p":"B","id":"B8","t":"A","x":413.8,"y":73},{"p":"B","id":"B8","t":"A","x":421.9,"y":74},{"p":"B","id":"B8","t":"A","x":430,"y":75},{"p":"B","id":"B8","t":"A","x":438.1,"y":74},{"p":"B","id":"B8","t":"A","x":446.2,"y":73},{"p":"B","id":"B8","t":"A","x":454.3,"y":70},{"p":"B","id":"B8","t":"A","x":462.4,"y":69},{"p":"B","id":"B8","t":"A","x":470.5,"y":71},{"p":"B","id":"B8","t":"A","x":478.6,"y":70},{"p":"B","id":"B8","t":"A","x":488.7,"y":71},{"p":"B","id":"B8","t":"A","x":500,"y":73},
{"p":"C","id":"C1","t":"L","x":50,"y":305},{"p":"C","id":"C1","t":"L","x":61.3,"y":306},{"p":"C","id":"C1","t":"L","x":73.5,"y":307},{"p":"C","id":"C1","t":"L","x":81.6,"y":305},{"p":"C","id":"C1","t":"L","x":85.6,"y":304},{"p":"C","id":"C1","t":"L","x":91.7,"y":306},{"p":"C","id":"C1","t":"L","x":101.8,"y":308},{"p":"C","id":"C1","t":"L","x":113.9,"y":307},{"p":"C","id":"C1","t":"L","x":122,"y":308},{"p":"C","id":"C1","t":"L","x":128.1,"y":316},{"p":"C","id":"C1","t":"L","x":134.2,"y":321},{"p":"C","id":"C1","t":"L","x":142.3,"y":324},{"p":"C","id":"C1","t":"L","x":148.3,"y":321},{"p":"C","id":"C1","t":"L","x":154.4,"y":313},{"p":"C","id":"C1","t":"L","x":160.5,"y":303},{"p":"C","id":"C1","t":"L","x":166.6,"y":294},{"p":"C","id":"C1","t":"L","x":172.6,"y":289},{"p":"C","id":"C1","t":"L","x":178.7,"y":293},{"p":"C","id":"C1","t":"L","x":186.8,"y":299},{"p":"C","id":"C1","t":"L","x":194.9,"y":306},{"p":"C","id":"C1","t":"L","x":203,"y":308},{"p":"C","id":"C1","t":"L","x":211.1,"y":313},{"p":"C","id":"C1","t":"L","x":215.1,"y":316},{"p":"C","id":"C1","t":"L","x":218.4,"y":318},{"p":"C","id":"C1","t":"L","x":222.4,"y":311},{"p":"C","id":"C1","t":"L","x":227.3,"y":307},{"p":"C","id":"C1","t":"L","x":235.4,"y":308},{"p":"C","id":"C1","t":"L","x":243.4,"y":305},{"p":"C","id":"C1","t":"L","x":251.5,"y":307},{"p":"C","id":"C1","t":"L","x":257.6,"y":311},{"p":"C","id":"C1","t":"L","x":260.4,"y":316},{"p":"C","id":"C1","t":"L","x":263.7,"y":313},{"p":"C","id":"C1","t":"L","x":266.9,"y":321},{"p":"C","id":"C1","t":"L","x":270.2,"y":318},{"p":"C","id":"C1","t":"L","x":273.8,"y":329},{"p":"C","id":"C1","t":"L","x":276.6,"y":321},{"p":"C","id":"C1","t":"L","x":279.9,"y":333},{"p":"C","id":"C1","t":"L","x":283.1,"y":326},{"p":"C","id":"C1","t":"L","x":286.8,"y":336},{"p":"C","id":"C1","t":"L","x":290,"y":331},{"p":"C","id":"C1","t":"L","x":294.1,"y":341},{"p":"C","id":"C1","t":"L","x":298.1,"y":331},{"p":"C","id":"C1","t":"L","x":303.4,"y":344},{"p":"C","id":"C1","t":"L","x":307.4,"y":333},{"p":"C","id":"C1","t":"L","x":311.4,"y":328},{"p":"C","id":"C1","t":"L","x":314.3,"y":323},{"p":"C","id":"C1","t":"L","x":317.1,"y":329},{"p":"C","id":"C1","t":"L","x":321.1,"y":319},{"p":"C","id":"C1","t":"L","x":324.4,"y":329},{"p":"C","id":"C1","t":"L","x":327.6,"y":316},
{"p":"C","id":"C2","t":"L","x":339.8,"y":316},{"p":"C","id":"C2","t":"L","x":342.6,"y":311},{"p":"C","id":"C2","t":"L","x":346.6,"y":306},{"p":"C","id":"C2","t":"L","x":350.7,"y":293},{"p":"C","id":"C2","t":"L","x":353.5,"y":278},{"p":"C","id":"C2","t":"L","x":356.8,"y":266},{"p":"C","id":"C2","t":"L","x":360,"y":271},{"p":"C","id":"C2","t":"L","x":362.8,"y":258},{"p":"C","id":"C2","t":"L","x":365.7,"y":274},{"p":"C","id":"C2","t":"L","x":368.9,"y":264},{"p":"C","id":"C2","t":"L","x":372.1,"y":284},{"p":"C","id":"C2","t":"L","x":375.8,"y":268},{"p":"C","id":"C2","t":"L","x":379,"y":294},{"p":"C","id":"C2","t":"L","x":383.1,"y":274},{"p":"C","id":"C2","t":"L","x":387.1,"y":298},{"p":"C","id":"C2","t":"L","x":391.2,"y":278},{"p":"C","id":"C2","t":"L","x":395.2,"y":298},{"p":"C","id":"C2","t":"L","x":399.3,"y":284},{"p":"C","id":"C2","t":"L","x":403.3,"y":294},{"p":"C","id":"C2","t":"L","x":409.4,"y":298},{"p":"C","id":"C2","t":"L","x":417.5,"y":299},{"p":"C","id":"C2","t":"L","x":429.6,"y":303},{"p":"C","id":"C2","t":"L","x":441.8,"y":303},{"p":"C","id":"C2","t":"L","x":453.9,"y":303},{"p":"C","id":"C2","t":"L","x":466,"y":304},{"p":"C","id":"C2","t":"L","x":478.2,"y":304},{"p":"C","id":"C2","t":"L","x":490.3,"y":304},{"p":"C","id":"C2","t":"L","x":500,"y":305},
{"p":"C","id":"C3","t":"A","x":50,"y":249},{"p":"C","id":"C3","t":"A","x":61.3,"y":249},{"p":"C","id":"C3","t":"A","x":69.4,"y":251},{"p":"C","id":"C3","t":"A","x":75.5,"y":259},{"p":"C","id":"C3","t":"A","x":79.5,"y":268},{"p":"C","id":"C3","t":"A","x":83.6,"y":266},{"p":"C","id":"C3","t":"A","x":89.7,"y":254},{"p":"C","id":"C3","t":"A","x":95.7,"y":249},{"p":"C","id":"C3","t":"A","x":105.8,"y":249},{"p":"C","id":"C3","t":"A","x":113.9,"y":253},{"p":"C","id":"C3","t":"A","x":118.8,"y":263},{"p":"C","id":"C3","t":"A","x":122.8,"y":259},{"p":"C","id":"C3","t":"A","x":130.1,"y":258},{"p":"C","id":"C3","t":"A","x":138.2,"y":258},{"p":"C","id":"C3","t":"A","x":146.3,"y":256},{"p":"C","id":"C3","t":"A","x":154.4,"y":254},{"p":"C","id":"C3","t":"A","x":162.5,"y":249},{"p":"C","id":"C3","t":"A","x":170.6,"y":248},{"p":"C","id":"C3","t":"A","x":182.7,"y":246},{"p":"C","id":"C3","t":"A","x":194.9,"y":246},{"p":"C","id":"C3","t":"A","x":207,"y":246},{"p":"C","id":"C3","t":"A","x":215.1,"y":248},{"p":"C","id":"C3","t":"A","x":219.2,"y":251},{"p":"C","id":"C3","t":"A","x":223.2,"y":246},{"p":"C","id":"C3","t":"A","x":235.4,"y":245},{"p":"C","id":"C3","t":"A","x":247.5,"y":245},{"p":"C","id":"C3","t":"A","x":255.6,"y":248},{"p":"C","id":"C3","t":"A","x":261.7,"y":254},{"p":"C","id":"C3","t":"A","x":265.7,"y":251},{"p":"C","id":"C3","t":"A","x":269.8,"y":259},{"p":"C","id":"C3","t":"A","x":273.8,"y":256},{"p":"C","id":"C3","t":"A","x":277.9,"y":263},{"p":"C","id":"C3","t":"A","x":281.9,"y":261},{"p":"C","id":"C3","t":"A","x":286,"y":269},{"p":"C","id":"C3","t":"A","x":290,"y":264},{"p":"C","id":"C3","t":"A","x":294,"y":274},{"p":"C","id":"C3","t":"A","x":298.1,"y":268},{"p":"C","id":"C3","t":"A","x":302.1,"y":273},{"p":"C","id":"C3","t":"A","x":306.2,"y":264},{"p":"C","id":"C3","t":"A","x":310.2,"y":268},{"p":"C","id":"C3","t":"A","x":314.3,"y":258},{"p":"C","id":"C3","t":"A","x":318.3,"y":264},{"p":"C","id":"C3","t":"A","x":322.4,"y":253},{"p":"C","id":"C3","t":"A","x":326.4,"y":263},{"p":"C","id":"C3","t":"A","x":328.4,"y":249},
{"p":"C","id":"C4","t":"A","x":339.8,"y":246},{"p":"C","id":"C4","t":"A","x":341.4,"y":238},{"p":"C","id":"C4","t":"A","x":343.9,"y":243},{"p":"C","id":"C4","t":"A","x":346.6,"y":231},{"p":"C","id":"C4","t":"A","x":349.5,"y":238},{"p":"C","id":"C4","t":"A","x":352.7,"y":226},{"p":"C","id":"C4","t":"A","x":356,"y":234},{"p":"C","id":"C4","t":"A","x":359.2,"y":221},{"p":"C","id":"C4","t":"A","x":362.4,"y":231},{"p":"C","id":"C4","t":"A","x":365.7,"y":216},{"p":"C","id":"C4","t":"A","x":368.9,"y":228},{"p":"C","id":"C4","t":"A","x":372.1,"y":214},{"p":"C","id":"C4","t":"A","x":375.4,"y":228},{"p":"C","id":"C4","t":"A","x":379,"y":218},{"p":"C","id":"C4","t":"A","x":382.3,"y":231},{"p":"C","id":"C4","t":"A","x":385.9,"y":224},{"p":"C","id":"C4","t":"A","x":389.1,"y":238},{"p":"C","id":"C4","t":"A","x":393.2,"y":233},{"p":"C","id":"C4","t":"A","x":397.2,"y":244},{"p":"C","id":"C4","t":"A","x":403.3,"y":248},{"p":"C","id":"C4","t":"A","x":413.4,"y":248},{"p":"C","id":"C4","t":"A","x":425.6,"y":248},{"p":"C","id":"C4","t":"A","x":437.7,"y":249},{"p":"C","id":"C4","t":"A","x":449.9,"y":248},{"p":"C","id":"C4","t":"A","x":462,"y":249},{"p":"C","id":"C4","t":"A","x":474.1,"y":248},{"p":"C","id":"C4","t":"A","x":486.3,"y":249},{"p":"C","id":"C4","t":"A","x":500,"y":248},
{"p":"C","id":"C5","t":"L","x":50,"y":146},{"p":"C","id":"C5","t":"L","x":61.3,"y":148},{"p":"C","id":"C5","t":"L","x":73.5,"y":148},{"p":"C","id":"C5","t":"L","x":81.6,"y":144},{"p":"C","id":"C5","t":"L","x":89.7,"y":148},{"p":"C","id":"C5","t":"L","x":97.8,"y":149},{"p":"C","id":"C5","t":"L","x":109.9,"y":149},{"p":"C","id":"C5","t":"L","x":122,"y":151},{"p":"C","id":"C5","t":"L","x":134.2,"y":154},{"p":"C","id":"C5","t":"L","x":142.3,"y":156},{"p":"C","id":"C5","t":"L","x":152.4,"y":154},{"p":"C","id":"C5","t":"L","x":160.5,"y":148},{"p":"C","id":"C5","t":"L","x":168.6,"y":144},{"p":"C","id":"C5","t":"L","x":174.6,"y":142},{"p":"C","id":"C5","t":"L","x":182.7,"y":146},{"p":"C","id":"C5","t":"L","x":194.9,"y":148},{"p":"C","id":"C5","t":"L","x":207,"y":151},{"p":"C","id":"C5","t":"L","x":215.1,"y":158},{"p":"C","id":"C5","t":"L","x":219.2,"y":161},{"p":"C","id":"C5","t":"L","x":223.2,"y":156},{"p":"C","id":"C5","t":"L","x":231.3,"y":153},{"p":"C","id":"C5","t":"L","x":239.4,"y":149},{"p":"C","id":"C5","t":"L","x":247.5,"y":151},{"p":"C","id":"C5","t":"L","x":253.6,"y":158},{"p":"C","id":"C5","t":"L","x":256.4,"y":154},{"p":"C","id":"C5","t":"L","x":259.7,"y":166},{"p":"C","id":"C5","t":"L","x":262.9,"y":154},{"p":"C","id":"C5","t":"L","x":266.9,"y":176},{"p":"C","id":"C5","t":"L","x":271.8,"y":151},{"p":"C","id":"C5","t":"L","x":275.8,"y":188},{"p":"C","id":"C5","t":"L","x":279.9,"y":151},{"p":"C","id":"C5","t":"L","x":284.7,"y":199},{"p":"C","id":"C5","t":"L","x":288.8,"y":154},{"p":"C","id":"C5","t":"L","x":294,"y":208},{"p":"C","id":"C5","t":"L","x":298.1,"y":158},{"p":"C","id":"C5","t":"L","x":303,"y":208},{"p":"C","id":"C5","t":"L","x":307.4,"y":154},{"p":"C","id":"C5","t":"L","x":312.2,"y":194},{"p":"C","id":"C5","t":"L","x":317.1,"y":154},{"p":"C","id":"C5","t":"L","x":321.5,"y":184},{"p":"C","id":"C5","t":"L","x":326.4,"y":153},{"p":"C","id":"C5","t":"L","x":328.4,"y":168},
{"p":"C","id":"C6","t":"L","x":340.6,"y":164},{"p":"C","id":"C6","t":"L","x":342.6,"y":161},{"p":"C","id":"C6","t":"L","x":345.4,"y":141},{"p":"C","id":"C6","t":"L","x":348.7,"y":133},{"p":"C","id":"C6","t":"L","x":350.7,"y":139},{"p":"C","id":"C6","t":"L","x":354.8,"y":104},{"p":"C","id":"C6","t":"L","x":357.6,"y":94},{"p":"C","id":"C6","t":"L","x":360,"y":101},{"p":"C","id":"C6","t":"L","x":362.8,"y":121},{"p":"C","id":"C6","t":"L","x":365.7,"y":98},{"p":"C","id":"C6","t":"L","x":368.9,"y":128},{"p":"C","id":"C6","t":"L","x":372.1,"y":101},{"p":"C","id":"C6","t":"L","x":375.8,"y":124},{"p":"C","id":"C6","t":"L","x":379,"y":146},{"p":"C","id":"C6","t":"L","x":383.1,"y":89},{"p":"C","id":"C6","t":"L","x":387.1,"y":139},{"p":"C","id":"C6","t":"L","x":391.2,"y":109},{"p":"C","id":"C6","t":"L","x":395.2,"y":141},{"p":"C","id":"C6","t":"L","x":399.3,"y":109},{"p":"C","id":"C6","t":"L","x":403.3,"y":143},{"p":"C","id":"C6","t":"L","x":407.4,"y":124},{"p":"C","id":"C6","t":"L","x":411.4,"y":136},{"p":"C","id":"C6","t":"L","x":417.5,"y":138},{"p":"C","id":"C6","t":"L","x":429.6,"y":141},{"p":"C","id":"C6","t":"L","x":441.8,"y":143},{"p":"C","id":"C6","t":"L","x":453.9,"y":144},{"p":"C","id":"C6","t":"L","x":466,"y":145},{"p":"C","id":"C6","t":"L","x":478.2,"y":146},{"p":"C","id":"C6","t":"L","x":490.3,"y":147},{"p":"C","id":"C6","t":"L","x":500,"y":146},
{"p":"C","id":"C7","t":"A","x":50,"y":66},{"p":"C","id":"C7","t":"A","x":55.3,"y":68},{"p":"C","id":"C7","t":"A","x":61.3,"y":65},{"p":"C","id":"C7","t":"A","x":69.4,"y":68},{"p":"C","id":"C7","t":"A","x":75.5,"y":78},{"p":"C","id":"C7","t":"A","x":79.5,"y":89},{"p":"C","id":"C7","t":"A","x":82.4,"y":93},{"p":"C","id":"C7","t":"A","x":85.6,"y":86},{"p":"C","id":"C7","t":"A","x":91.7,"y":73},{"p":"C","id":"C7","t":"A","x":97.8,"y":68},{"p":"C","id":"C7","t":"A","x":105.8,"y":66},{"p":"C","id":"C7","t":"A","x":111.9,"y":68},{"p":"C","id":"C7","t":"A","x":115.9,"y":79},{"p":"C","id":"C7","t":"A","x":118.8,"y":85},{"p":"C","id":"C7","t":"A","x":124,"y":81},{"p":"C","id":"C7","t":"A","x":132.2,"y":79},{"p":"C","id":"C7","t":"A","x":142.3,"y":75},{"p":"C","id":"C7","t":"A","x":150.4,"y":71},{"p":"C","id":"C7","t":"A","x":154.4,"y":68},{"p":"C","id":"C7","t":"A","x":157.2,"y":73},{"p":"C","id":"C7","t":"A","x":160.5,"y":68},{"p":"C","id":"C7","t":"A","x":166.6,"y":64},{"p":"C","id":"C7","t":"A","x":174.6,"y":59},{"p":"C","id":"C7","t":"A","x":182.7,"y":55},{"p":"C","id":"C7","t":"A","x":190.8,"y":57},{"p":"C","id":"C7","t":"A","x":198.9,"y":58},{"p":"C","id":"C7","t":"A","x":207,"y":58},{"p":"C","id":"C7","t":"A","x":213.1,"y":61},{"p":"C","id":"C7","t":"A","x":217.1,"y":64},{"p":"C","id":"C7","t":"A","x":221.2,"y":59},{"p":"C","id":"C7","t":"A","x":227.3,"y":56},{"p":"C","id":"C7","t":"A","x":233.3,"y":59},{"p":"C","id":"C7","t":"A","x":241.4,"y":64},{"p":"C","id":"C7","t":"A","x":249.5,"y":66},{"p":"C","id":"C7","t":"A","x":253.6,"y":69},{"p":"C","id":"C7","t":"A","x":256.8,"y":66},{"p":"C","id":"C7","t":"A","x":260.5,"y":79},{"p":"C","id":"C7","t":"A","x":263.7,"y":68},{"p":"C","id":"C7","t":"A","x":268.5,"y":89},{"p":"C","id":"C7","t":"A","x":273.8,"y":63},{"p":"C","id":"C7","t":"A","x":278.7,"y":103},{"p":"C","id":"C7","t":"A","x":283.1,"y":64},{"p":"C","id":"C7","t":"A","x":288,"y":109},{"p":"C","id":"C7","t":"A","x":292,"y":68},{"p":"C","id":"C7","t":"A","x":296.1,"y":114},{"p":"C","id":"C7","t":"A","x":300.9,"y":71},{"p":"C","id":"C7","t":"A","x":305,"y":113},{"p":"C","id":"C7","t":"A","x":309.4,"y":73},{"p":"C","id":"C7","t":"A","x":314.3,"y":116},{"p":"C","id":"C7","t":"A","x":319.1,"y":81},{"p":"C","id":"C7","t":"A","x":323.2,"y":106},{"p":"C","id":"C7","t":"A","x":327.6,"y":91},{"p":"C","id":"C7","t":"A","x":329.2,"y":101},
{"p":"C","id":"C8","t":"A","x":339.8,"y":84},{"p":"C","id":"C8","t":"A","x":342.6,"y":68},{"p":"C","id":"C8","t":"A","x":345.4,"y":78},{"p":"C","id":"C8","t":"A","x":348.7,"y":58},{"p":"C","id":"C8","t":"A","x":352.7,"y":84},{"p":"C","id":"C8","t":"A","x":356,"y":56},{"p":"C","id":"C8","t":"A","x":359.6,"y":86},{"p":"C","id":"C8","t":"A","x":362.8,"y":68},{"p":"C","id":"C8","t":"A","x":365.7,"y":73},{"p":"C","id":"C8","t":"A","x":369.7,"y":84},{"p":"C","id":"C8","t":"A","x":374.2,"y":49},{"p":"C","id":"C8","t":"A","x":378.2,"y":86},{"p":"C","id":"C8","t":"A","x":382.3,"y":31},{"p":"C","id":"C8","t":"A","x":386.3,"y":86},{"p":"C","id":"C8","t":"A","x":390.4,"y":54},{"p":"C","id":"C8","t":"A","x":395.2,"y":83},{"p":"C","id":"C8","t":"A","x":399.3,"y":58},{"p":"C","id":"C8","t":"A","x":403.3,"y":83},{"p":"C","id":"C8","t":"A","x":407.4,"y":64},{"p":"C","id":"C8","t":"A","x":411.4,"y":78},{"p":"C","id":"C8","t":"A","x":417.5,"y":79},{"p":"C","id":"C8","t":"A","x":429.6,"y":79},{"p":"C","id":"C8","t":"A","x":441.8,"y":80},{"p":"C","id":"C8","t":"A","x":453.9,"y":78},{"p":"C","id":"C8","t":"A","x":466,"y":78},{"p":"C","id":"C8","t":"A","x":478.2,"y":77},{"p":"C","id":"C8","t":"A","x":490.3,"y":76},{"p":"C","id":"C8","t":"A","x":500,"y":75}
]},
"facet": {"column": {"field": "p", "type": "nominal", "header": {"title": null, "labelExpr": "datum.value == 'A' ? 'D61A - Synechocystis' : datum.value == 'B' ? 'WT* - Synechocystis' : 'Spinach (BBY)'", "labelFontSize": 24, "labelFont": "Open Sans", "labelColor": "#1a1a1a", "labelPadding": 2}}},
"spacing": 45,
"bounds": "flush",
"resolve": {"axis": {"y": "independent"}},
"spec": {
 "width": 371, "height": 390,
 "layer": [
  {"transform": [{"filter": "datum.k == 'd'"}],
   "mark": {"type": "rule", "strokeDash": [5, 4], "color": "#333333", "strokeWidth": 1.5},
   "encoding": {"x": {"field": "x", "type": "quantitative"}}},
  {"transform": [{"filter": "datum.k == 'tk'"}],
   "mark": {"type": "rule", "color": "#333333", "strokeWidth": 1},
   "encoding": {"x": {"field": "x", "type": "quantitative"}, "y": {"datum": 390}, "y2": {"datum": 385}}},
  {"transform": [{"filter": "isValid(datum.t)"}],
   "mark": {"type": "line", "strokeWidth": 1.6},
   "encoding": {
    "x": {"field": "x", "type": "quantitative", "scale": {"domain": [50, 500], "nice": false, "zero": false},
      "axis": {"values": [100, 200, 300, 400, 500], "title": "Magnetic Field (mT)", "titleFontSize": 19, "grid": false, "domain": false, "tickSize": -5, "tickColor": "#333333", "labelFlush": false, "labelPadding": 15, "titlePadding": 4}},
    "y": {"field": "y", "type": "quantitative", "scale": {"domain": [0, 390], "nice": false, "zero": false},
      "axis": {"title": "dχ″/dB₀", "labels": false, "ticks": false, "domain": false, "grid": false, "titleFontSize": 21, "titlePadding": 2}},
    "color": {"field": "t", "type": "nominal", "scale": {"domain": ["L", "A"], "range": ["#151515", "#3553ab"]},
      "legend": {"title": null, "orient": "none", "legendX": 377, "legendY": 438, "direction": "horizontal", "labelExpr": "datum.value == 'L' ? 'Light - Dark' : 'Annealed - Dark'", "symbolType": "M-1,0H7.3", "symbolStrokeWidth": 7, "symbolSize": 196, "labelFontSize": 18, "labelFont": "Open Sans", "labelColor": "#1a1a1a", "strokeColor": "#222222", "padding": 20, "columnPadding": 4, "labelOffset": 63}},
    "detail": {"field": "id", "type": "nominal"}}},
  {"transform": [{"filter": "datum.k == 'txt'"}],
   "mark": {"type": "text", "fontSize": 19, "font": "Open Sans", "color": "#1a1a1a", "align": "center", "baseline": "middle"},
   "encoding": {"x": {"field": "x", "type": "quantitative"}, "y": {"field": "y", "type": "quantitative"}, "text": {"field": "label"}}},
  {"transform": [{"filter": "datum.k == 'arr'"}],
   "mark": {"type": "rule", "color": "#111111", "strokeWidth": 2.5},
   "encoding": {"x": {"field": "x", "type": "quantitative"}, "y": {"field": "y", "type": "quantitative"}, "y2": {"field": "yh"}}},
  {"transform": [{"filter": "datum.k == 'arr'"}],
   "mark": {"type": "point", "shape": "M-1,-1.3L1,-1.3L0,1.3Z", "filled": true, "color": "#111111", "size": 52, "opacity": 1, "strokeWidth": 0},
   "encoding": {"x": {"field": "x", "type": "quantitative"}, "y": {"field": "yh", "type": "quantitative"}}}
 ]
},
"config": {
 "view": {"stroke": "#3a3a3a", "strokeWidth": 1.5},
 "font": "Open Sans",
 "axis": {"labelFont": "Open Sans", "titleFont": "Open Sans", "labelFontSize": 17, "titleFontSize": 17, "titleFontWeight": "normal", "labelColor": "#1a1a1a", "titleColor": "#1a1a1a"}
}
}
